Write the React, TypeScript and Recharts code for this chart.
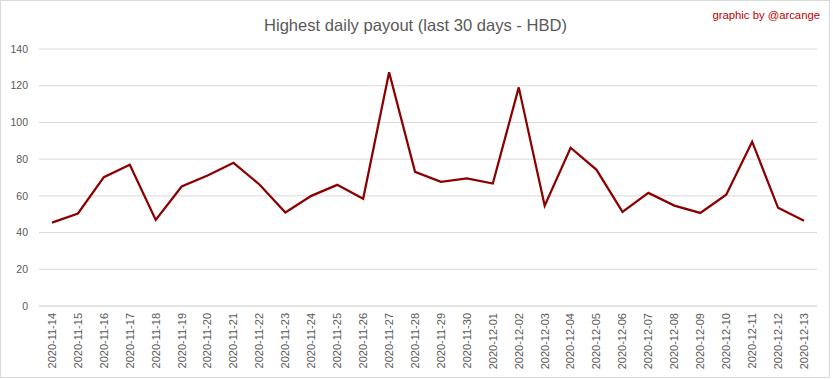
import React from 'react';
import { LineChart, Line, XAxis, YAxis, CartesianGrid } from 'recharts';

const DATES = [
  '2020-11-14', '2020-11-15', '2020-11-16', '2020-11-17', '2020-11-18', '2020-11-19',
  '2020-11-20', '2020-11-21', '2020-11-22', '2020-11-23', '2020-11-24', '2020-11-25',
  '2020-11-26', '2020-11-27', '2020-11-28', '2020-11-29', '2020-11-30', '2020-12-01',
  '2020-12-02', '2020-12-03', '2020-12-04', '2020-12-05', '2020-12-06', '2020-12-07',
  '2020-12-08', '2020-12-09', '2020-12-10', '2020-12-11', '2020-12-12', '2020-12-13',
];

const PAYOUTS = [
  45.4, 50.4, 70.2, 76.9, 46.9, 65.1, 71.1, 78.0, 66.2, 50.9, 60.0, 66.0, 58.4, 127.3, 73.1,
  67.6, 69.5, 66.7, 119.1, 54.6, 86.2, 74.2, 51.3, 61.6, 54.7, 50.7, 60.6, 89.5, 53.5, 46.4,
];

const Y_TICKS = [0, 20, 40, 60, 80, 100, 120, 140];

const TITLE = 'Highest daily payout (last 30 days - HBD)';
const CREDIT = 'graphic by @arcange';

const FONT = '"Liberation Sans", Arial, sans-serif';
const GREY_TEXT = '#595959';
const GRID = '#d9d9d9';
const LINE_COLOR = '#8b0000';

const data = DATES.map((date, i) => ({ date, value: PAYOUTS[i] }));

// rotated date labels, top end just below the axis
const DateTick = (props: any) => {
  const { x, y, payload } = props;
  return (
    <g transform={`translate(${x},${y})`}>
      <text
        transform="rotate(-90)"
        textAnchor="end"
        dy="0.35em"
        fill={GREY_TEXT}
        fontSize={11}
        fontFamily={FONT}
      >
        {payload.value}
      </text>
    </g>
  );
};

export default function App() {
  return (
    <div style={{ position: 'absolute', left: 0, top: 0, width: 833, height: 379, background: '#fff' }}>
      <div
        style={{
          position: 'absolute',
          left: 0,
          top: 0,
          width: 830,
          height: 378,
          boxSizing: 'border-box',
          border: `1px solid ${GRID}`,
        }}
      />
      <div style={{ position: 'absolute', left: 0, top: 0 }}>
        <LineChart width={833} height={379} data={data} margin={{ top: 49, right: 16, bottom: 0, left: 0 }}>
          <CartesianGrid vertical={false} stroke={GRID} />
          <XAxis
            dataKey="date"
            interval={0}
            height={73}
            padding={{ left: 13, right: 13 }}
            tickLine={false}
            tickSize={0}
            tickMargin={7}
            axisLine={{ stroke: GRID }}
            tick={<DateTick />}
          />
          <YAxis
            width={39}
            domain={[0, 140]}
            ticks={Y_TICKS}
            tickLine={false}
            axisLine={false}
            tickSize={0}
            tickMargin={11}
            tick={{ fill: GREY_TEXT, fontSize: 10.5, fontFamily: FONT }}
          />
          <Line
            type="linear"
            dataKey="value"
            stroke={LINE_COLOR}
            strokeWidth={2.25}
            dot={false}
            activeDot={false}
            isAnimationActive={false}
          />
        </LineChart>
      </div>
      <svg
        width={833}
        height={379}
        style={{ position: 'absolute', left: 0, top: 0, pointerEvents: 'none' }}
      >
        <text
          x={415.5}
          y={31}
          textAnchor="middle"
          fill={GREY_TEXT}
          fontSize={16.5}
          fontFamily={FONT}
          textLength={303}
          lengthAdjust="spacingAndGlyphs"
        >
          {TITLE}
        </text>
        <text
          x={820}
          y={19}
          textAnchor="end"
          fill="#c00000"
          fontSize={11.3}
          fontFamily={FONT}
        >
          {CREDIT}
        </text>
      </svg>
    </div>
  );
}
